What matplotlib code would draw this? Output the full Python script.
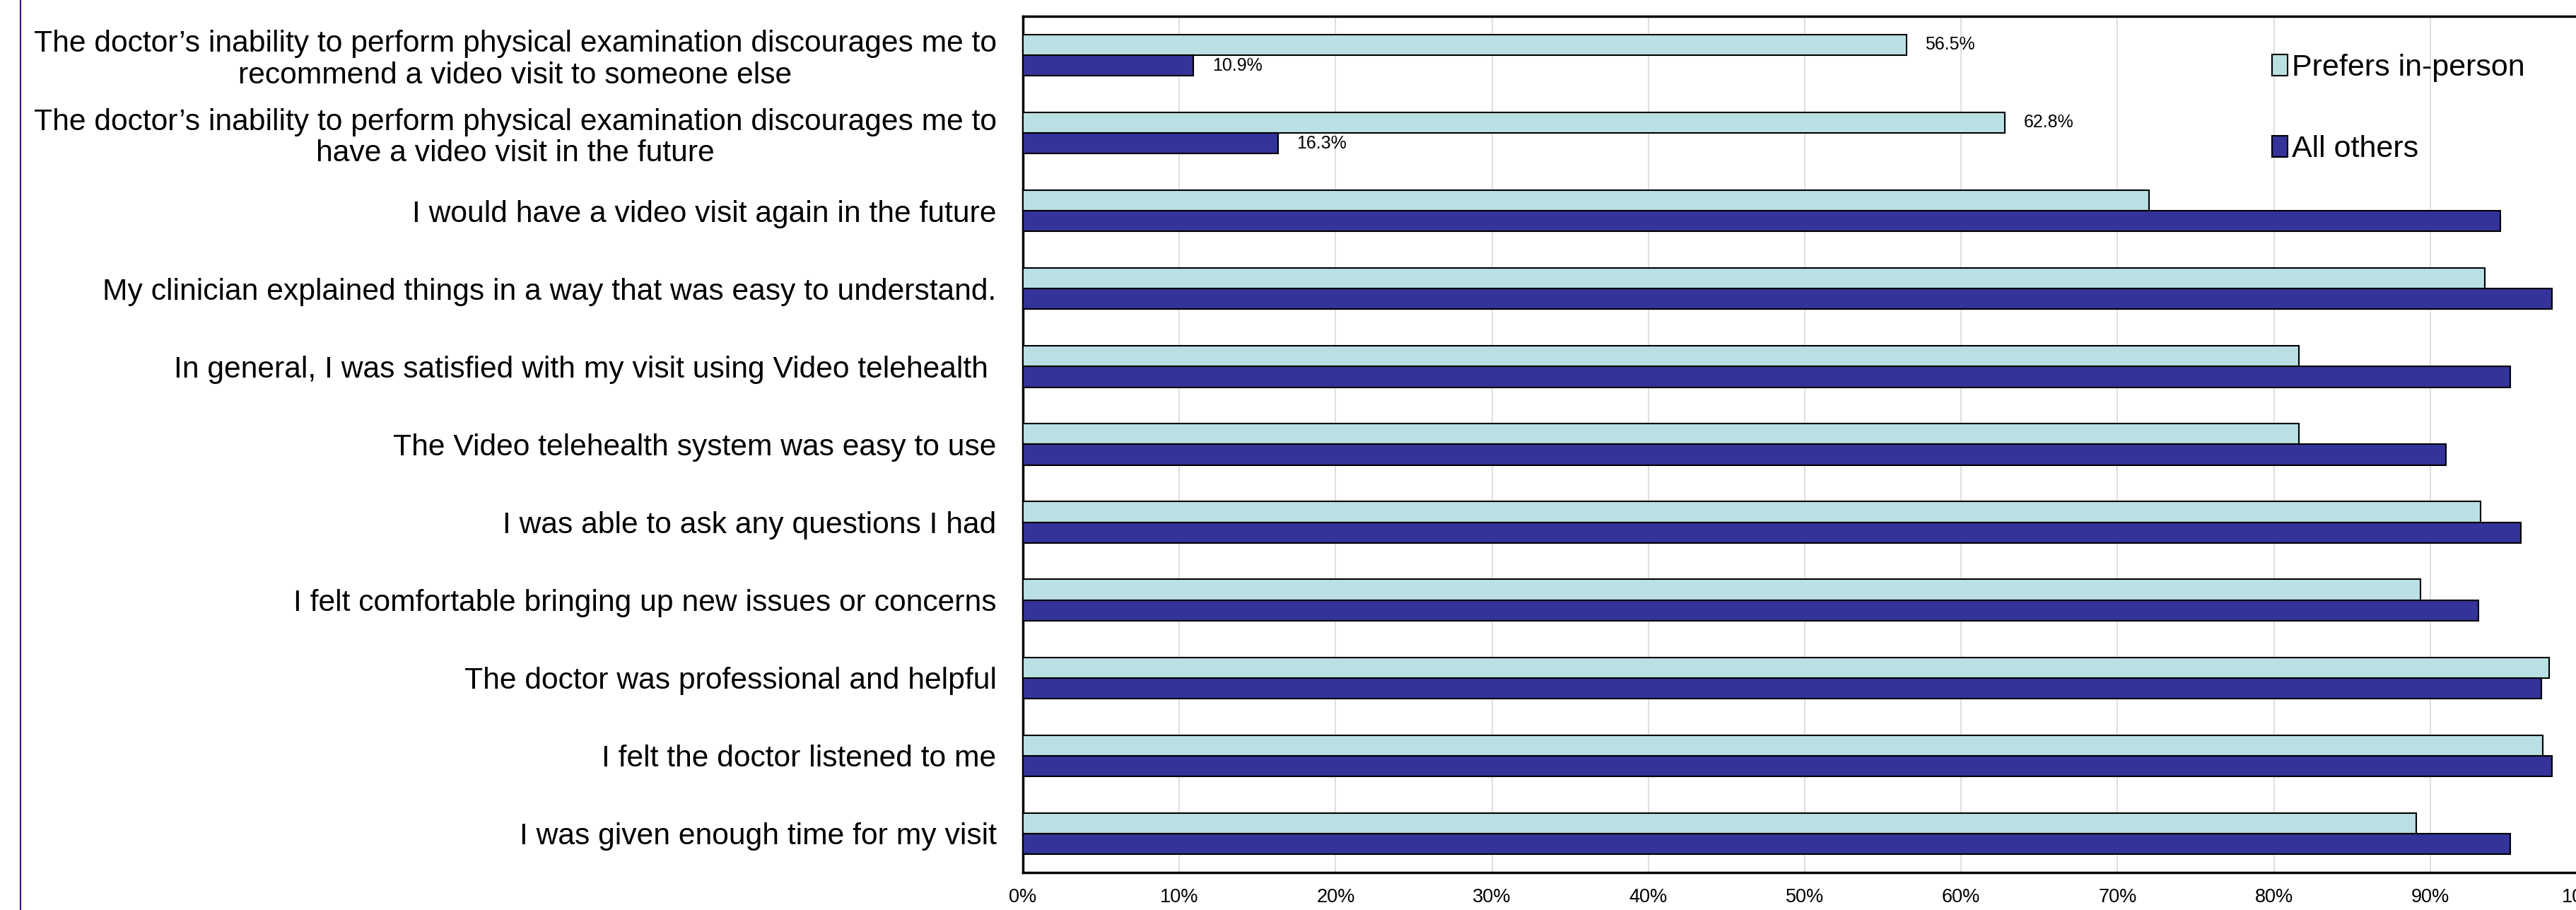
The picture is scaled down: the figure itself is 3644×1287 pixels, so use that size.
import numpy as np
import matplotlib
matplotlib.use('Agg')
import matplotlib.pyplot as plt
from matplotlib.ticker import FuncFormatter

plt.rcParams['font.family'] = ['Liberation Sans', 'DejaVu Sans']

# survey items, top to bottom
items = [
    "The doctor\u2019s inability to perform physical examination discourages me to\nrecommend a video visit to someone else",
    "The doctor\u2019s inability to perform physical examination discourages me to\nhave a video visit in the future",
    "I would have a video visit again in the future",
    "My clinician explained things in a way that was easy to understand.",
    "In general, I was satisfied with my visit using Video telehealth ",
    "The Video telehealth system was easy to use",
    "I was able to ask any questions I had",
    "I felt comfortable bringing up new issues or concerns",
    "The doctor was professional and helpful",
    "I felt the doctor listened to me",
    "I was given enough time for my visit",
]
prefers_in_person = [56.5, 62.8, 72.0, 93.5, 81.6, 81.6, 93.2, 89.4, 97.6, 97.2, 89.1]
all_others = [10.9, 16.3, 94.5, 97.8, 95.1, 91.0, 95.8, 93.1, 97.1, 97.8, 95.1]
labelled = [0, 1]  # groups that carry value labels

light = '#BAE0E3'
dark = '#333399'

fig = plt.figure(figsize=(36.44, 12.87), dpi=100)
ax = fig.add_axes([0.3971, 0.0412, 0.607, 0.9410])

y = np.arange(len(items))
h = 0.265
ax.barh(y - h / 2, prefers_in_person, height=h, color=light, edgecolor='black',
        linewidth=1.5, label='Prefers in-person', zorder=3)
ax.barh(y + h / 2, all_others, height=h, color=dark, edgecolor='black',
        linewidth=1.5, label='All others', zorder=3)

for i in labelled:
    ax.text(prefers_in_person[i] + 1.2, y[i] - h / 2, f'{prefers_in_person[i]:.1f}%',
            va='center', ha='left', fontsize=18)
    ax.text(all_others[i] + 1.2, y[i] + h / 2, f'{all_others[i]:.1f}%',
            va='center', ha='left', fontsize=18)

ax.set_xlim(0, 100)
ax.set_ylim(len(items) - 0.5, -0.5)
ax.set_xticks(np.arange(0, 101, 10))
ax.xaxis.set_major_formatter(FuncFormatter(lambda v, p: f'{v:.0f}%'))
ax.set_yticks(y)
ax.set_yticklabels(items, fontsize=30.7, multialignment='center', linespacing=1.15)
ax.tick_params(axis='x', length=0, pad=16, labelsize=19.5)
ax.tick_params(axis='y', length=0, pad=27)
ax.grid(axis='x', color='#d9d9d9', linewidth=1.2, zorder=0)
ax.set_axisbelow(True)
for s in ['left', 'top', 'bottom']:
    ax.spines[s].set_linewidth(2.5)
ax.spines['right'].set_visible(False)

leg = fig.legend(loc='upper left', bbox_to_anchor=(3214 / 3644, 1 - 76 / 1287),
                 frameon=False, fontsize=31, labelspacing=1.75, handlelength=0.5,
                 handleheight=0.7, handletextpad=0.15, borderpad=0, borderaxespad=0)

# thin purple frame line at the left edge
fig.add_artist(plt.Line2D([29 / 3644, 29 / 3644], [0, 1], color='#3f0f7f',
                          linewidth=1.5, transform=fig.transFigure))

fig.savefig('out.png', dpi=100)
